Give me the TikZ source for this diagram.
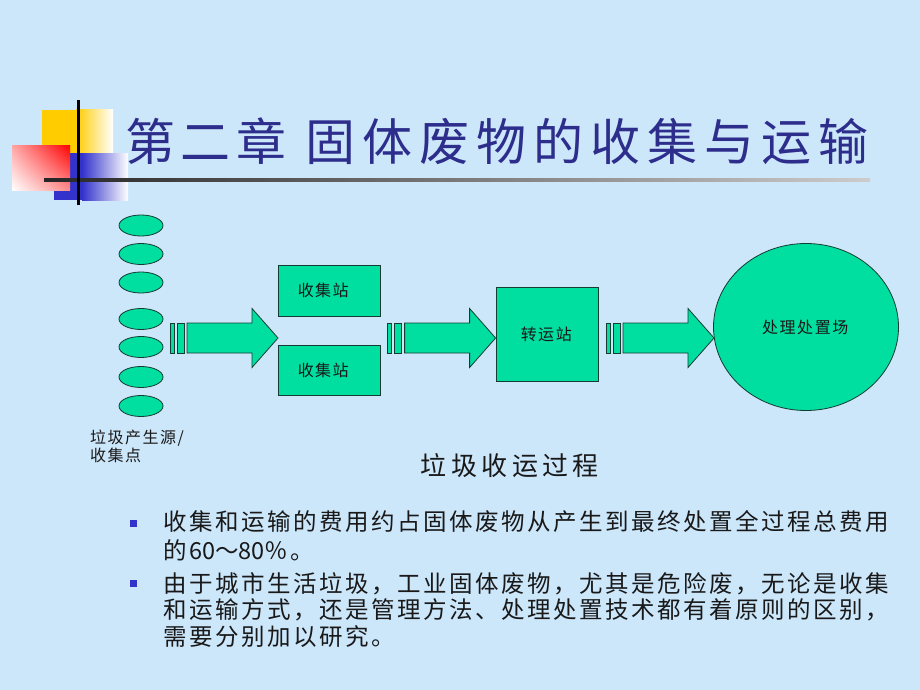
\documentclass[tikz,border=0pt]{standalone}
\usepackage{fontspec}
\setmainfont{Liberation Sans}
\newfontfamily\cjk{Noto Sans CJK SC}
\usetikzlibrary{shapes.geometric,shadings}
\definecolor{bg}{RGB}{204,230,250}
\definecolor{tblue}{RGB}{45,45,140}
\definecolor{gfill}{RGB}{0,222,160}
\definecolor{gline}{RGB}{20,60,50}
\definecolor{bsq}{RGB}{51,51,204}
\definecolor{ylw}{RGB}{255,204,0}
\definecolor{txt}{RGB}{25,25,25}
\makeatletter
\newcommand\spaced[2]{\def\spc@k{#1}\spc@a#2\relax}
\def\spc@a#1{\ifx\relax#1\else#1\kern\spc@k\expandafter\spc@a\fi}
\makeatother
\tikzset{
  src/.style={ellipse, draw=gline, line width=0.8pt, fill=gfill, minimum width=44pt, minimum height=21pt, inner sep=0pt},
  station/.style={rectangle, draw=gline, line width=0.8pt, fill=gfill, inner sep=0pt, text=txt, font=\cjk\fontsize{16}{18}\selectfont},
  plain/.style={inner sep=0pt, text=txt},
  blk/.style={draw=gline, line width=0.8pt, fill=gfill},
  barrow/.pic={
    \draw[blk] (-108,-15) rectangle (-104,15);
    \draw[blk] (-101,-15) rectangle (-94,15);
    \draw[blk] (-91,-15) -- (-26,-15) -- (-26,-29.5) -- (0,0) -- (-26,29.5) -- (-26,15) -- (-91,15) -- cycle;
  },
  bul/.style={fill=bsq, minimum width=7pt, minimum height=7pt, inner sep=0pt},
  body/.style={plain, anchor=west, font=\cjk\fontsize{23.5}{26}\selectfont}
}
\begin{document}
\begin{tikzpicture}[x=1pt,y=-1pt]
\fill[bg] (0,0) rectangle (920,690);
\useasboundingbox (0,0) rectangle (920,690);
% decoration
\fill[ylw] (42,110) rectangle (76,165);
\shade[left color=ylw, right color=white] (76,110) rectangle (113,165);
\fill[bsq] (54,153) rectangle (82,200);
\shade[left color=bsq, right color=white] (82,153) rectangle (128,200);
\shade[upper right=red, upper left=red!35!white, lower right=red!45!white, lower left=white] (12,145) rectangle (70,190);
\shade[left color=black!85, right color=black!20] (44,178.5) rectangle (870,181.5);
\fill[black] (76.5,100) rectangle (79.5,205);
% title
\node[inner sep=0pt, anchor=west, text=tblue, font=\cjk\fontsize{50}{60}\selectfont] (title) at (125,141)
  {\spaced{5.5pt}{第二章}\hspace{14pt}\spaced{7pt}{固体废物的收集与运输}};
% sources
\foreach \y [count=\i] in {225.5,254,282.5,319,347,377,406}
  \node[src] (s\i) at (141,\y) {};
\node[plain, anchor=north west, align=left, font=\cjk\fontsize{16}{18}\selectfont] (srclabel) at (90,430)
  {\spaced{1.5pt}{垃圾产生源}/\\\spaced{1.5pt}{收集点}};
% stations
\node[station, minimum width=102pt, minimum height=51pt] (c1) at (329,290.5) {\hspace*{-10pt}\spaced{1.5pt}{收集站}};
\node[station, minimum width=102pt, minimum height=50pt] (c2) at (329,370) {\hspace*{-10pt}\spaced{1.5pt}{收集站}};
\node[station, minimum width=102pt, minimum height=94pt] (t) at (547,334) {\spaced{1.5pt}{转运站}};
\node[ellipse, draw=gline, line width=0.8pt, fill=gfill, minimum width=185pt, minimum height=167pt, inner sep=0pt,
  text=txt, font=\cjk\fontsize{16}{18}\selectfont] (d) at (806,327) {\raisebox{-7pt}{\spaced{1.6pt}{处理处置场}}};
% block arrows
\coordinate (a1) at (278,338);
\coordinate (a2) at (t.west |- a1);
\coordinate (a3) at (714,338);
\pic at (a1) {barrow};
\pic at (a2) {barrow};
\pic at (a3) {barrow};
% caption
\node[plain, font=\cjk\fontsize{26}{30}\selectfont] (cap) at (512,466) {\spaced{4.5pt}{垃圾收运过程}};
% bullets
\node[bul] (b1) at (133.5,523.5) {};
\node[bul] (b2) at (133.5,583.5) {};
\node[body] (l1) at (163,522) {\spaced{2.5pt}{收集和运输的费用约占固体废物从产生到最终处置全过程总费用}};
\node[body] (l2) at (163,550) {\spaced{2.5pt}{的}60～80\spaced{2pt}{％。}};
\node[body] (l3) at (163,584) {\spaced{2.5pt}{由于城市生活垃圾，工业固体废物，尤其是危险废，无论是收集}};
\node[body] (l4) at (163,610) {\spaced{2.5pt}{和运输方式，还是管理方法、处理处置技术都有着原则的区别，}};
\node[body] (l5) at (163,637) {\spaced{2.5pt}{需要分别加以研究。}};
\end{tikzpicture}
\end{document}
